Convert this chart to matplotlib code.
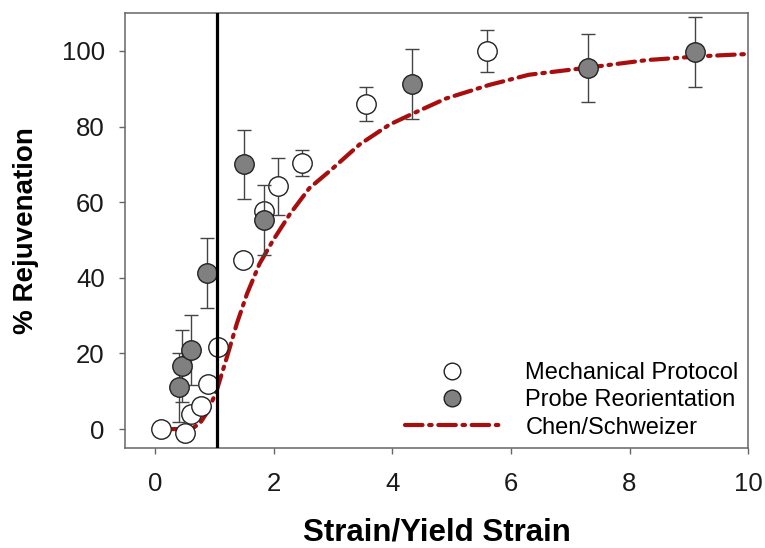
import matplotlib
matplotlib.use("Agg")
import matplotlib.pyplot as plt
from matplotlib.lines import Line2D

plt.rcParams['font.family'] = ['Liberation Sans', 'DejaVu Sans']

# Mechanical protocol (open circles)
mech_x = [0.1, 0.5, 0.6, 0.77, 0.89, 1.06, 1.48, 1.83, 2.07, 2.47, 3.56, 5.6]
mech_y = [0.0, -1.0, 3.9, 6.0, 11.8, 21.6, 44.7, 57.6, 64.2, 70.3, 86.0, 100.0]
mech_err = [0, 0, 0, 0, 0, 0, 0, 0, 7.5, 3.5, 4.5, 5.5]

# Probe reorientation (filled circles)
probe_x = [0.4, 0.45, 0.6, 0.87, 1.5, 1.83, 4.34, 7.3, 9.1]
probe_y = [11.0, 16.6, 21.0, 41.3, 70.0, 55.3, 91.3, 95.6, 99.8]
probe_err = [9.0, 9.5, 9.3, 9.3, 9.2, 9.3, 9.3, 9.0, 9.2]

# Chen/Schweizer theory curve
theory_x = [0.25, 0.5, 0.65, 0.76, 0.9, 1.04, 1.21, 1.38, 1.55, 1.76, 1.98, 2.27,
            2.6, 2.97, 3.45, 3.95, 4.34, 4.9, 5.63, 6.3, 7.3, 8.3, 9.2, 10.0]
theory_y = [0.0, 0.0, 0.4, 1.6, 5.0, 10.3, 19.0, 28.0, 35.8, 43.7, 49.7, 56.8,
            63.7, 68.6, 75.3, 80.5, 83.4, 87.4, 91.0, 93.7, 95.6, 97.6, 98.6, 99.2]

yield_strain = 1.05

x_ticks = [0, 2, 4, 6, 8, 10]
y_ticks = [0, 20, 40, 60, 80, 100]

fig = plt.figure(figsize=(7.65, 5.48), dpi=100)
ax = fig.add_axes([0.164, 0.1825, 0.814, 0.7935])

red = '#A80E0E'
dash = (4.2, 1.6, 0.6, 1.6)
ax.plot(theory_x, theory_y, color=red, lw=3.0, dashes=dash,
        dash_capstyle='round', zorder=2)

ax.errorbar(mech_x, mech_y, yerr=mech_err, fmt='none', ecolor='#444444',
            elinewidth=1.0, capsize=5, capthick=1.0, zorder=3)
ax.plot(mech_x, mech_y, 'o', ms=14, mfc='white', mec='#222222', mew=1.0,
        zorder=4, linestyle='none')

ax.errorbar(probe_x, probe_y, yerr=probe_err, fmt='none', ecolor='#444444',
            elinewidth=1.0, capsize=5, capthick=1.0, zorder=5)
ax.plot(probe_x, probe_y, 'o', ms=14, mfc='#808080', mec='#222222', mew=1.0,
        zorder=6, linestyle='none')

ax.axvline(yield_strain, color='black', lw=2.3, zorder=7)

ax.set_xlim(-0.5, 10)
ax.set_ylim(-5, 110)
ax.set_xticks(x_ticks)
ax.set_yticks(y_ticks)
ax.set_xticklabels([str(t) for t in x_ticks])
ax.set_yticklabels([str(t) for t in y_ticks])

for sp in ax.spines.values():
    sp.set_color('#666666')
    sp.set_linewidth(1.1)
ax.tick_params(direction='out', length=4.5, width=1.0, color='#666666',
               labelsize=18.5, labelcolor='#1a1a1a')
ax.tick_params(axis='x', pad=12.5)
ax.tick_params(axis='y', pad=10.5)

ax.set_xlabel('Strain/Yield Strain', fontsize=22.5, fontweight='bold', labelpad=16)
ax.set_ylabel('% Rejuvenation', fontsize=20, fontweight='bold', labelpad=16)

handles = [
    Line2D([], [], marker='o', ls='none', ms=12, mfc='white', mec='#222222', mew=1.0),
    Line2D([], [], marker='o', ls='none', ms=12, mfc='#808080', mec='#222222', mew=1.0),
    Line2D([], [], color=red, lw=3.0, dashes=dash, dash_capstyle='round'),
]
labels = ['Mechanical Protocol', 'Probe Reorientation', 'Chen/Schweizer']
ax.legend(handles, labels, loc='lower right', bbox_to_anchor=(1.0, 0.0),
          frameon=False, fontsize=17, handlelength=4.0, handletextpad=1.1,
          labelspacing=0.22, borderaxespad=0.1, borderpad=0.3)

fig.savefig('out.png', dpi=100)
